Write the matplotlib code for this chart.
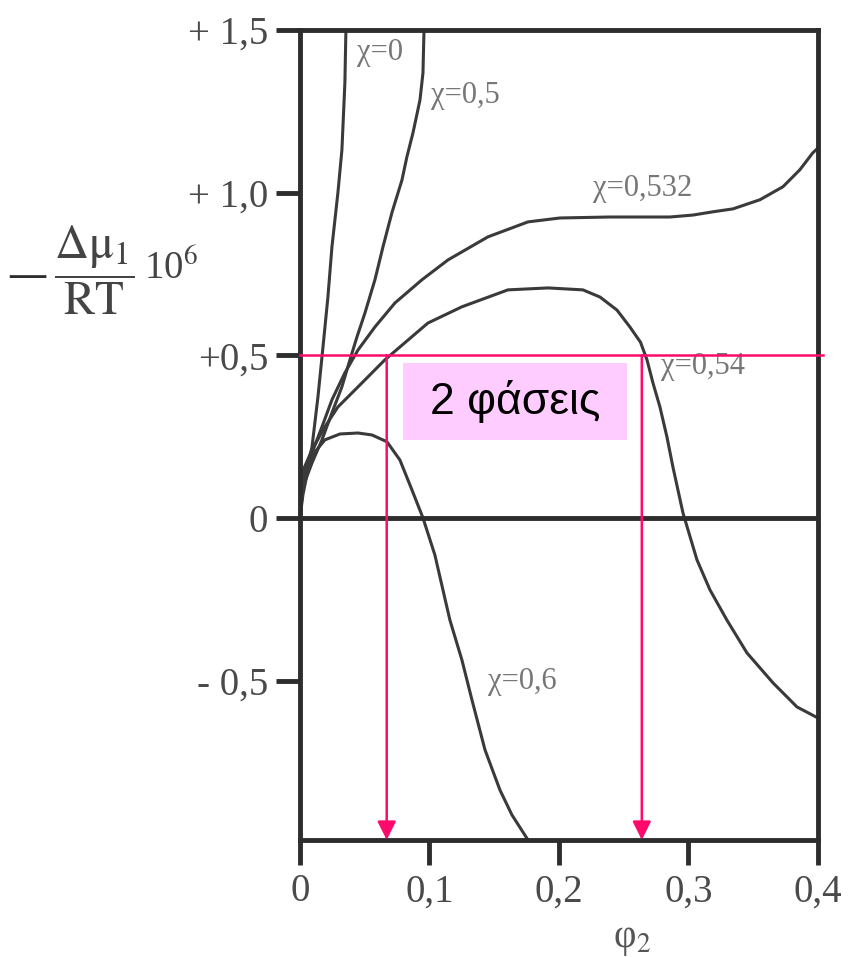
import numpy as np
import matplotlib.pyplot as plt
from matplotlib.patches import Rectangle

plt.rcParams['mathtext.fontset'] = 'stix'
plt.rcParams['font.family'] = ['Liberation Serif', 'DejaVu Serif']

# phi_2 vs -(dmu_1/RT)*10^6 for several chi values
chi_0_x = [0, 0.0023, 0.0093, 0.0139, 0.0178, 0.0216, 0.0247, 0.0293, 0.0324, 0.0347, 0.0355]
chi_0_y = [0, 0.095, 0.218, 0.372, 0.526, 0.679, 0.833, 0.999, 1.131, 1.337, 1.5]

chi_05_x = [0, 0.0023, 0.0093, 0.0170, 0.0247, 0.0324, 0.0386, 0.0440, 0.0502, 0.0579,
            0.0641, 0.0710, 0.0788, 0.0826, 0.0873, 0.0927, 0.0950, 0.0958]
chi_05_y = [0, 0.095, 0.169, 0.240, 0.323, 0.403, 0.486, 0.556, 0.630, 0.732,
            0.833, 0.938, 1.039, 1.110, 1.184, 1.285, 1.368, 1.5]

chi_0532_x = [0, 0.0015, 0.0093, 0.0170, 0.0247, 0.0347, 0.0448, 0.0579, 0.0734, 0.0942,
              0.1143, 0.1452, 0.1761, 0.2008, 0.2394, 0.2857, 0.3035, 0.3189, 0.3344,
              0.3552, 0.3730, 0.3860, 0.3960, 0.4]
chi_0532_y = [0, 0.117, 0.200, 0.280, 0.363, 0.446, 0.516, 0.587, 0.661, 0.732,
              0.793, 0.864, 0.910, 0.922, 0.925, 0.925, 0.931, 0.941, 0.950,
              0.978, 1.018, 1.070, 1.122, 1.137]

chi_054_x = [0, 0.0015, 0.0093, 0.0193, 0.0293, 0.0479, 0.0656, 0.0988, 0.1251, 0.1606,
             0.1915, 0.2185, 0.2317, 0.2448, 0.2548, 0.2630, 0.2680, 0.2726, 0.2780,
             0.2834, 0.2880, 0.2958, 0.3066, 0.3166, 0.3297, 0.3452, 0.3653, 0.3838, 0.4]
chi_054_y = [0, 0.138, 0.209, 0.280, 0.341, 0.415, 0.486, 0.599, 0.649, 0.701,
             0.707, 0.701, 0.679, 0.639, 0.587, 0.540, 0.486, 0.415, 0.341,
             0.249, 0.157, 0.015, -0.129, -0.221, -0.314, -0.415, -0.507, -0.581, -0.615]

chi_06_x = [0, 0.0023, 0.0062, 0.0116, 0.0193, 0.0309, 0.0448, 0.0556, 0.0672, 0.0772,
            0.0865, 0.0950, 0.1042, 0.1158, 0.1251, 0.1328, 0.1429, 0.1544, 0.1637, 0.1761]
chi_06_y = [0, 0.071, 0.148, 0.203, 0.240, 0.258, 0.261, 0.255, 0.234, 0.178,
            0.086, 0.0, -0.114, -0.314, -0.437, -0.559, -0.713, -0.836, -0.913, -0.990]

curve_labels = ['χ=0', 'χ=0,5', 'χ=0,532', 'χ=0,54', 'χ=0,6']
label_pos = [(0.062, 1.432), (0.128, 1.297), (0.265, 1.014), (0.311, 0.464), (0.172, -0.504)]

y_ticks = [1.5, 1.0, 0.5, 0, -0.5]
y_ticklabels = ['+ 1,5', '+ 1,0', '+0,5', '0', '- 0,5']
x_ticks = [0, 0.1, 0.2, 0.3, 0.4]
x_ticklabels = ['0', '0,1', '0,2', '0,3', '0,4']

# two-phase region: binodal compositions at the 0.5 level
level = 0.5
phase_x = [0.067, 0.264]

dark = '#2d2d2d'
pink = '#ff0a6c'

fig = plt.figure(figsize=(8.57, 9.57), dpi=100)
ax = fig.add_axes([0.350, 0.1223, 0.6044, 0.8464])
ax.set_xlim(0, 0.4)
ax.set_ylim(-0.99, 1.5)

for xs, ys in [(chi_0_x, chi_0_y), (chi_05_x, chi_05_y), (chi_0532_x, chi_0532_y),
               (chi_054_x, chi_054_y), (chi_06_x, chi_06_y)]:
    ax.plot(xs, ys, color='#3a3a3a', lw=2.2, solid_joinstyle='round')

for txt, (lx, ly) in zip(curve_labels, label_pos):
    ax.text(lx, ly, txt, ha='center', va='center', fontsize=22, color='#777777')

ax.axhline(0, color=dark, lw=3.5)

# two-phase marker lines
ax.plot([0, 0.4039], [level, level], color=pink, lw=1.8, clip_on=False, zorder=4)
for px in phase_x:
    ax.annotate('', xy=(px, -0.99), xytext=(px, level),
                arrowprops=dict(arrowstyle='-|>', color=pink, lw=1.8, mutation_scale=28,
                                shrinkA=0, shrinkB=0), zorder=4)

ax.add_patch(Rectangle((0.0795, 0.240), 0.173, 0.236, facecolor='#ffccff',
                       edgecolor='none', zorder=3))
ax.text(0.166, 0.358, '2 φάσεις', ha='center', va='center', fontsize=32,
        family='Liberation Sans', color='black', zorder=5)

for s in ax.spines.values():
    s.set_color(dark)
    s.set_linewidth(3.5)

ax.set_yticks(y_ticks)
ax.set_yticklabels(y_ticklabels)
ax.set_xticks(x_ticks)
ax.set_xticklabels(x_ticklabels)
ax.tick_params(axis='y', length=17, width=3.5, color=dark, pad=6, labelsize=28,
               labelcolor='#4a4a4a')
ax.tick_params(axis='x', length=18, width=3.5, color=dark, pad=6, labelsize=28,
               labelcolor='#4a4a4a')

fig.text(632 / 857, 1 - 940 / 957, 'φ$_2$', ha='center', va='center',
         fontsize=28, color='#555555')

# y-axis quantity: long minus, fraction, power of ten
fig.text(27 / 857, 1 - 276 / 957, '—', ha='center', va='center', fontsize=26,
         fontweight='bold', color='#2d2d2d')
fig.text(94 / 857, 1 - 270 / 957, r'$\dfrac{\mathrm{Δμ_1}}{\mathrm{RT}}$', ha='center',
         va='center', fontsize=34, color='#444444')
fig.text(144 / 857, 1 - 268 / 957, r'10$^6$', ha='left', va='center', fontsize=28,
         color='#444444')

fig.savefig('out.png', dpi=100)
